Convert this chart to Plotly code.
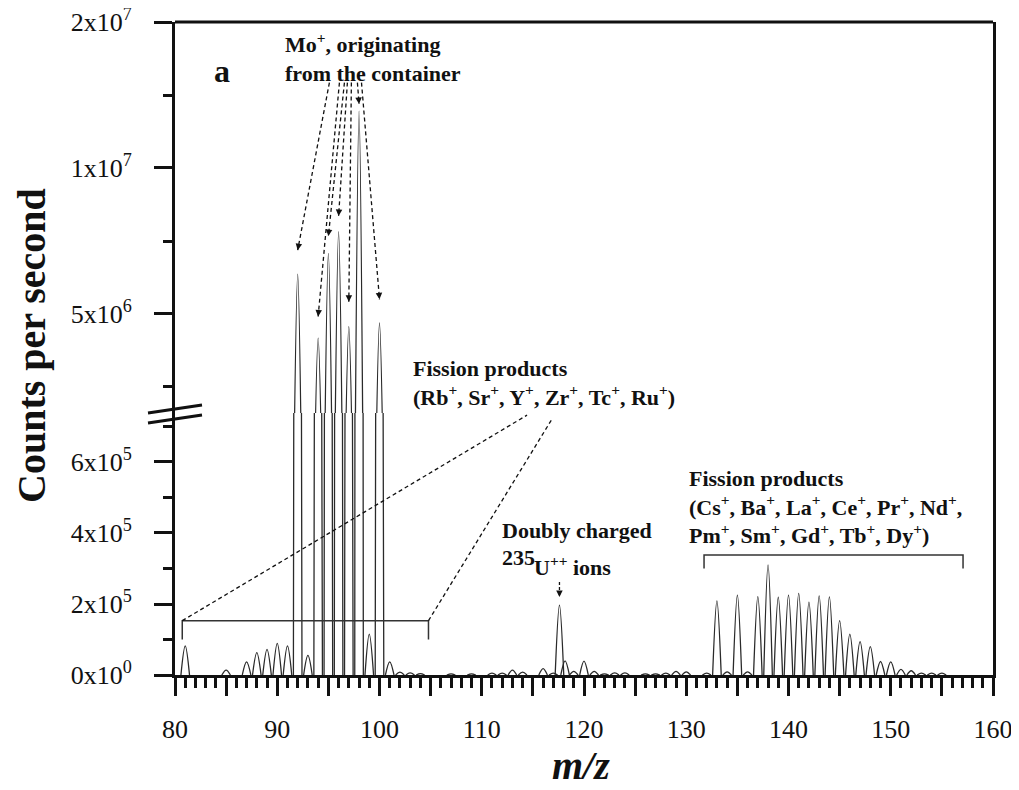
import math
import plotly.graph_objects as go

# ---------------- data ----------------
mz = [81, 85, 87, 88, 89, 90, 91, 92, 93, 94, 95, 96, 97, 98, 99, 100, 101, 102, 103, 104,
      107, 109, 111, 112, 113, 114, 116, 117, 117.6, 118.15, 119, 120, 121, 122, 123, 124,
      126, 127, 128, 129, 130, 132, 133, 134, 135, 136, 137, 138, 139, 140, 141, 142, 143,
      144, 145, 146, 147, 148, 149, 150, 151, 152, 153, 154, 155]
counts = [8.2e4, 1.4e4, 3.7e4, 6.3e4, 7.2e4, 8.9e4, 8.2e4, 6.04e6, 5.5e4, 4.46e6, 6.67e6,
          7.39e6, 4.71e6, 1.31e7, 1.15e5, 4.79e6, 3.7e4, 8e3, 6e3, 4e3,
          3e3, 3e3, 5e3, 5e3, 1.4e4, 8e3, 1.8e4, 5e3, 1.97e5, 4.0e4, 1.0e4, 3.9e4, 1.0e4, 3e3,
          6e3, 6e3,
          3e3, 3e3, 5e3, 1.0e4, 9e3, 5e3, 2.09e5, 9e3, 2.25e5, 9e3, 2.21e5, 3.10e5, 2.19e5,
          2.25e5, 2.30e5, 2.05e5, 2.23e5, 2.20e5, 1.53e5, 1.15e5, 9.4e4, 8.0e4, 3.8e4, 3.7e4,
          1.6e4, 1.2e4, 5e3, 5e3, 5e3]

low_tickvals = [0, 2e5, 4e5, 6e5]
low_ticktext = ["0x10<sup>0</sup>", "2x10<sup>5</sup>", "4x10<sup>5</sup>", "6x10<sup>5</sup>"]
low_minor = [1e5, 3e5, 5e5, 7e5]
up_tickvals = [5e6, 1e7, 2e7]
up_ticktext = ["5x10<sup>6</sup>", "1x10<sup>7</sup>", "2x10<sup>7</sup>"]
up_minor = [3.54e6, 7.07e6, 1.414e7]

# Mo+ arrows (annotation geometry)
mo_mz = [92, 94, 95, 96, 97, 98, 100]
mo_tail_mz = [95.10, 96.08, 96.57, 96.86, 97.25, 97.84, 98.24]
mo_tail_val = 1.50e7
mo_head_val = [6.77e6, 4.94e6, 7.24e6, 7.96e6, 5.30e6, 1.355e7, 5.36e6]

# ---------------- layout constants (screen pixels) ----------------
BODY = 8                       # default page margin around the figure
W, H = 1019 - 2 * BODY, 790 - 2 * BODY
L, T, PW, PH = 175, 22, 818, 653   # plot area in screenshot coordinates
BREAK_PX = 413
D = (T + PH - BREAK_PX) / PH
LOW_MAX = 7.38e5
UP_RANGE = [6.4948, math.log10(2e7)]
HW = 0.42
UP_BASE = 2e6
INK = "#111111"
SPEC = "#2a2a2a"
FONT = "Liberation Serif"


def pxx(x):
    return (x - L) / PW


def pxy(y):
    return (T + PH - y) / PH


def build(base, only_above=None):
    xs, ys = [], []
    for m, c in zip(mz, counts):
        if only_above is not None and c <= only_above:
            continue
        xs += [m - HW, m, m + HW, None]
        ys += [base, c, base, None]
    return xs, ys


xl, yl = build(0)
xu, yu = build(UP_BASE, only_above=UP_BASE)

fig = go.Figure()
fig.add_trace(go.Scatter(x=xl, y=yl, mode="lines", xaxis="x", yaxis="y",
                         line=dict(color=SPEC, width=1.3, shape="spline", smoothing=1),
                         hoverinfo="skip", showlegend=False))
fig.add_trace(go.Scatter(x=xu, y=yu, mode="lines", xaxis="x", yaxis="y2",
                         line=dict(color=SPEC, width=1.3, shape="spline", smoothing=1),
                         hoverinfo="skip", showlegend=False))

tickfont = dict(family=FONT, size=26, color=INK)
ml = L - BODY
mt = T - BODY
mr = W - (L + PW - BODY)
mb = H - (T + PH - BODY)
fig.update_layout(
    width=W, height=H,
    margin=dict(l=ml, r=mr, t=mt, b=mb, pad=0, autoexpand=False),
    paper_bgcolor="white", plot_bgcolor="white",
    font=dict(family=FONT, color=INK, size=22),
    showlegend=False,
    xaxis=dict(range=[80, 160], anchor="y", tickmode="linear", tick0=80, dtick=5,
               ticklabelstep=2, ticks="outside", ticklen=18, tickwidth=3, tickcolor=INK,
               showline=True, linewidth=3, linecolor=INK, showgrid=False, zeroline=False,
               tickfont=tickfont, ticklabelstandoff=11, automargin=False,
               ticklabeloverflow="allow",
               minor=dict(dtick=1, tick0=80, ticks="outside", ticklen=10, tickwidth=2.5,
                          tickcolor=INK, showgrid=False)),
    yaxis=dict(domain=[0, D], range=[0, LOW_MAX], anchor="x", tickmode="array",
               tickvals=low_tickvals, ticktext=low_ticktext, ticks="outside", ticklen=18,
               tickwidth=3, tickcolor=INK, showline=True, mirror=True, linewidth=3,
               linecolor=INK, showgrid=False, zeroline=False, tickfont=tickfont,
               ticklabelstandoff=17, automargin=False, ticklabeloverflow="allow",
               minor=dict(tickvals=low_minor, ticks="outside", ticklen=9, tickwidth=3,
                          tickcolor=INK, showgrid=False)),
    yaxis2=dict(domain=[D, 1], type="log", range=UP_RANGE, anchor="x", tickmode="array",
                tickvals=up_tickvals, ticktext=up_ticktext, ticks="outside", ticklen=18,
                tickwidth=3, tickcolor=INK, showline=True, mirror=True, linewidth=3,
                linecolor=INK, showgrid=False, zeroline=False, tickfont=tickfont,
                ticklabelstandoff=17, automargin=False, ticklabeloverflow="allow",
                minor=dict(tickvals=up_minor, ticks="outside", ticklen=9, tickwidth=3,
                           tickcolor=INK, showgrid=False)),
)

shapes = []
annots = []
DASH = "4px,3px"

# top frame line
shapes.append(dict(type="line", xref="paper", yref="paper", x0=0, x1=1, y0=1, y1=1,
                   line=dict(color=INK, width=3)))
# axis break marks
for dy in (0, 10):
    shapes.append(dict(type="line", xref="paper", yref="paper",
                       x0=pxx(148), y0=pxy(413 + dy), x1=pxx(202), y1=pxy(405 + dy),
                       line=dict(color=INK, width=3)))

# Mo+ dashed arrows
for m, tm, hv in zip(mo_mz, mo_tail_mz, mo_head_val):
    shapes.append(dict(type="line", xref="x", yref="y2", x0=tm, y0=mo_tail_val, x1=m, y1=hv,
                       line=dict(color=INK, width=1.3, dash=DASH)))
    dxp = (tm - m) * PW / 80
    dyp = (math.log10(mo_tail_val) - math.log10(hv)) * PH * (1 - D) / (UP_RANGE[1] - UP_RANGE[0])
    f = 7 / math.hypot(dxp, dyp)
    annots.append(dict(x=m, y=math.log10(hv), xref="x", yref="y2",
                       ax=m + f * (tm - m),
                       ay=math.log10(hv) + f * (math.log10(mo_tail_val) - math.log10(hv)),
                       axref="x", ayref="y2", text="", showarrow=True, arrowhead=2,
                       arrowsize=1, arrowwidth=1.3, arrowcolor=INK, standoff=0))

# bracket 1 (Rb ... Ru) and its dashed leader lines
b1 = dict(x0=80.71, x1=104.79, top=1.53e5, bot=1.0e5)
shapes.append(dict(type="path", xref="x", yref="y",
                   path=f"M {b1['x0']},{b1['bot']} L {b1['x0']},{b1['top']} L {b1['x1']},{b1['top']} L {b1['x1']},{b1['bot']}",
                   line=dict(color="#333333", width=1.5)))
shapes.append(dict(type="line", xref="x", yref="y", x0=b1["x0"], y0=b1["top"], x1=114.43, y1=7.32e5,
                   line=dict(color=INK, width=1.3, dash=DASH)))
shapes.append(dict(type="line", xref="x", yref="y", x0=b1["x1"], y0=b1["top"], x1=116.87, y1=7.21e5,
                   line=dict(color=INK, width=1.3, dash=DASH)))

# bracket 2 (Cs ... Dy)
b2 = dict(x0=131.74, x1=157.07, top=3.38e5, bot=3.0e5)
shapes.append(dict(type="path", xref="x", yref="y",
                   path=f"M {b2['x0']},{b2['bot']} L {b2['x0']},{b2['top']} L {b2['x1']},{b2['top']} L {b2['x1']},{b2['bot']}",
                   line=dict(color="#333333", width=1.5)))

# U++ arrow
shapes.append(dict(type="line", xref="x", yref="y", x0=117.6, y0=2.62e5, x1=117.6, y1=2.24e5,
                   line=dict(color=INK, width=1.3, dash="3px,2px")))
annots.append(dict(x=117.6, y=2.2e5, xref="x", yref="y", ax=117.6, ay=2.4e5, axref="x", ayref="y",
                   text="", showarrow=True, arrowhead=2, arrowsize=1, arrowwidth=1.3,
                   arrowcolor=INK, standoff=0))


def label(text, x, y, size=22, xanchor="left", **kw):
    annots.append(dict(text=text, xref="paper", yref="paper", x=pxx(x), y=pxy(y),
                       xanchor=xanchor, yanchor="middle", showarrow=False,
                       font=dict(family=FONT, size=size, color=INK), **kw))


label("<b>a</b>", 222, 71, size=32, xanchor="center")
label("<b>Mo<sup>+</sup>, originating<br>from the container</b>", 283, 57, align="left")
label("<b>Fission products<br>(Rb<sup>+</sup>, Sr<sup>+</sup>, Y<sup>+</sup>, Zr<sup>+</sup>, Tc<sup>+</sup>, Ru<sup>+</sup>)</b>",
      411, 383, align="left")
label("<b>Fission products<br>(Cs<sup>+</sup>, Ba<sup>+</sup>, La<sup>+</sup>, Ce<sup>+</sup>, Pr<sup>+</sup>, Nd<sup>+</sup>,<br>"
      "Pm<sup>+</sup>, Sm<sup>+</sup>, Gd<sup>+</sup>, Tb<sup>+</sup>, Dy<sup>+</sup>)</b>", 687, 507, align="left")
label("<b>Doubly charged</b>", 500, 530)
label("<b>235</b>", 500, 557)
label("<b>U<sup>++</sup> ions</b>", 532, 566)
# axis titles
label("<b>Counts per second</b>", 31, 346, size=40, xanchor="center", textangle=-90)
label("<b><i>m/z</i></b>", 581, 765, size=40, xanchor="center")

fig.update_layout(shapes=shapes, annotations=annots)
fig.write_html("out.html")
